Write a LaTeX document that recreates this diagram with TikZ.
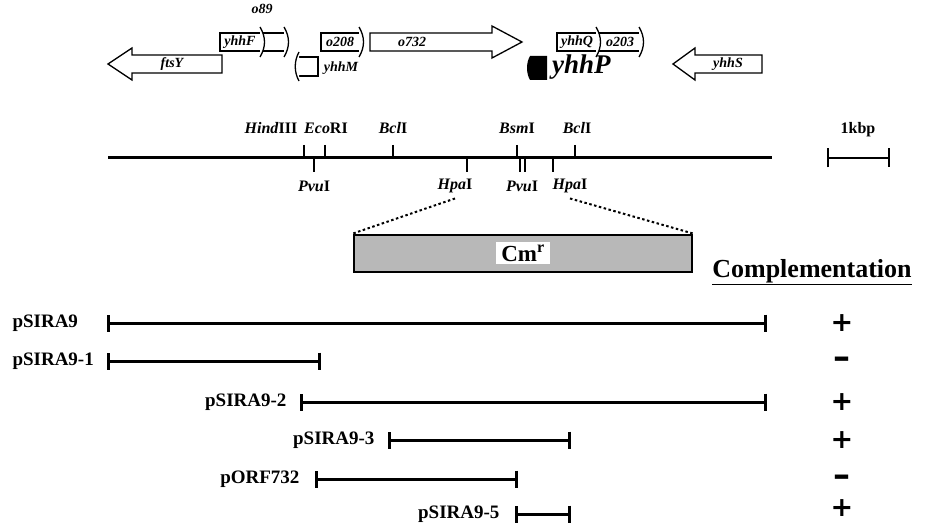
\documentclass[tikz,border=0pt]{standalone}
\usepackage{fontspec}
\setmainfont{Liberation Serif}
\newfontfamily\signfont{DejaVu Sans}
\usetikzlibrary{arrows.meta}
\begin{document}
\begin{tikzpicture}[
    x=1pt, y=-1pt,
    gene/.style={draw, line width=1.3pt, fill=white},
    genelab/.style={font=\fontsize{14}{15}\selectfont\bfseries\itshape},
    site/.style={font=\fontsize{16}{17}\selectfont\bfseries},
    cut/.style={line width=2.6pt},
    dna/.style={line width=3pt},
    bar/.style={line width=3pt, {Bar[width=17pt]}-{Bar[width=17pt]}},
    plasmid/.style={font=\fontsize{19}{20}\selectfont\bfseries},
    result/.style={font=\fontsize{27}{27}\signfont\bfseries, inner sep=0pt},
    noresult/.style={font=\fontsize{34}{34}\signfont\bfseries, inner sep=0pt},
    dotline/.style={dash pattern=on 2.5pt off 2.5pt, line width=2pt}
]
\useasboundingbox (0,0) rectangle (932,524);

% Genes, upper row
\draw[gene] (132,48) -- (108,64) -- (132,80) -- (132,73) -- (222,73) -- (222,55) -- (132,55) -- cycle;
\node[genelab] (ftsY) at (172,64) {ftsY};

\draw[gene] (263,33) -- (220,33) -- (220,51) -- (263,51);
\draw[gene] (263,33) -- (287,33) (263,51) -- (287,51);
\draw[gene] (260,27) .. controls (266,37) and (266,47) .. (260,57);
\draw[gene] (284,27) .. controls (290,37) and (290,47) .. (284,57);
\node[genelab] (yhhF) at (240,42) {yhhF};
\node[genelab] (o89) at (262,9) {o89};

\draw[gene] (298,57) -- (318,57) -- (318,76) -- (298,76);
\draw[gene] (299,52) .. controls (294,61) and (294,72) .. (299,81);
\node[genelab] (yhhM) at (341,68) {yhhM};

\draw[gene] (362,33) -- (321,33) -- (321,51) -- (362,51);
\draw[gene] (359,27) .. controls (365,37) and (365,47) .. (359,57);
\node[genelab] (o208) at (340,42) {o208};

\draw[gene] (370,33) -- (492,33) -- (492,26) -- (522,42) -- (492,58) -- (492,51) -- (370,51) -- cycle;
\node[genelab] (o732) at (412,42) {o732};

\draw[gene] (599,33) -- (557,33) -- (557,51) -- (599,51);
\draw[gene] (599,33) -- (642,33) (599,51) -- (642,51);
\draw[gene] (596,27) .. controls (602,37) and (602,47) .. (596,57);
\draw[gene] (639,27) .. controls (645,37) and (645,47) .. (639,57);
\node[genelab] (yhhQ) at (577,42) {yhhQ};
\node[genelab] (o203) at (620,42) {o203};

\fill (530,56) -- (547,56) -- (547,80) -- (530,80) .. controls (526,73) and (526,63) .. cycle;
\node[font=\fontsize{27}{28}\selectfont\bfseries\itshape, anchor=west, inner sep=1pt] (yhhP) at (551,67) {yhhP};

\draw[gene] (673,64) -- (695,48) -- (695,55) -- (762,55) -- (762,73) -- (695,73) -- (695,80) -- cycle;
\node[genelab] (yhhS) at (728,64) {yhhS};

% Restriction map
\coordinate (dnaL) at (108,158);
\coordinate (dnaR) at (772,158);
\draw[dna] (dnaL) -- (dnaR);
\foreach \x in {304,325,393,517,575}
    \draw[cut] (\x,145) -- (\x,158);
\foreach \x in {314,467,520,525,553}
    \draw[cut] (\x,158) -- (\x,172);
\node[site] (hind) at (271,128) {\textit{Hind}III};
\node[site] (eco) at (326,128) {\textit{Eco}RI};
\node[site] (bclL) at (393,128) {\textit{Bcl}I};
\node[site] (bsm) at (517,128) {\textit{Bsm}I};
\node[site] (bclR) at (577,128) {\textit{Bcl}I};
\node[site] (pvuL) at (314,186) {\textit{Pvu}I};
\node[site] (hpaL) at (455,186) {\textit{Hpa}I};
\node[site] (pvuR) at (522,186) {\textit{Pvu}I};
\node[site] (hpaR) at (570,186) {\textit{Hpa}I};

% Scale
\coordinate (kbL) at (827,158);
\coordinate (kbR) at (890,158);
\draw[line width=2.4pt, {Bar[width=19pt]}-{Bar[width=19pt]}] (kbL) -- (kbR);
\node[site] (kb) at (858,130) {1kbp};

% Insertion
\node[draw, line width=2pt, fill=black!28, minimum width=338pt, minimum height=37pt] (cm) at (523,253) {};
\node[fill=white, font=\fontsize{23}{24}\selectfont\bfseries, inner xsep=5pt, inner ysep=3pt] (cmr) at (523,253) {Cm\textsuperscript{r}};
\draw[dotline] ([yshift=-2pt]hpaL.south) -- (cm.north west);
\draw[dotline] ([yshift=-2pt]hpaR.south) -- (cm.north east);

\node[font=\fontsize{26}{28}\selectfont\bfseries] (compl) at (812,272) {\underline{Complementation}};

% Clones
\node[plasmid, anchor=west] (p9) at (9,323) {pSIRA9};
\coordinate (p9a) at (107,323); \coordinate (p9b) at (767,323);
\draw[bar] (p9a) -- (p9b);
\node[result] (r9) at (842,323) {+};

\node[plasmid, anchor=west] (p91) at (9,361) {pSIRA9-1};
\coordinate (p91a) at (107,361); \coordinate (p91b) at (321,361);
\draw[bar] (p91a) -- (p91b);
\node[noresult] (r91) at (842,363) {–};

\node[plasmid, anchor=east] (p92) at (290,402) {pSIRA9-2};
\coordinate (p92a) at (300,402); \coordinate (p92b) at (767,402);
\draw[bar] (p92a) -- (p92b);
\node[result] (r92) at (842,402) {+};

\node[plasmid, anchor=east] (p93) at (378,440) {pSIRA9-3};
\coordinate (p93a) at (388,440); \coordinate (p93b) at (571,440);
\draw[bar] (p93a) -- (p93b);
\node[result] (r93) at (842,440) {+};

\node[plasmid, anchor=east] (p732) at (303,479) {pORF732};
\coordinate (p732a) at (315,479); \coordinate (p732b) at (518,479);
\draw[bar] (p732a) -- (p732b);
\node[noresult] (r732) at (842,481) {–};

\node[plasmid, anchor=east] (p95) at (503,514) {pSIRA9-5};
\coordinate (p95a) at (515,514); \coordinate (p95b) at (571,514);
\draw[bar] (p95a) -- (p95b);
\node[result] (r95) at (842,508) {+};
\end{tikzpicture}
\end{document}
